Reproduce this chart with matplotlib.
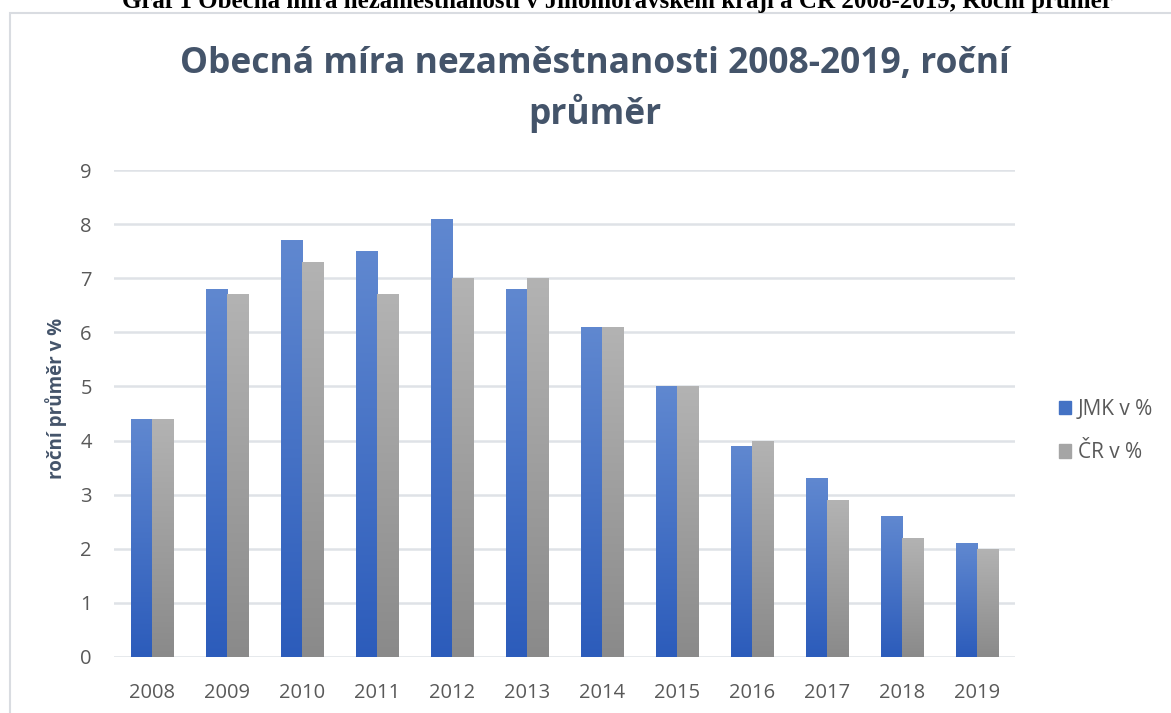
import numpy as np
import matplotlib
matplotlib.use("Agg")
import matplotlib.pyplot as plt
from matplotlib.patches import Rectangle
from matplotlib.colors import LinearSegmentedColormap

plt.rcParams['font.family'] = ['Open Sans', 'DejaVu Sans']

years = ['2008', '2009', '2010', '2011', '2012', '2013', '2014', '2015', '2016', '2017', '2018', '2019']
jmk = [4.4, 6.8, 7.7, 7.5, 8.1, 6.8, 6.1, 5.0, 3.9, 3.3, 2.6, 2.1]
cr = [4.4, 6.7, 7.3, 6.7, 7.0, 7.0, 6.1, 5.0, 4.0, 2.9, 2.2, 2.0]
series_names = ['JMK v %', 'ČR v %']

blue_cm = LinearSegmentedColormap.from_list('b', ['#2c5cbb', '#6088d0'])
gray_cm = LinearSegmentedColormap.from_list('g', ['#8a8a8a', '#b3b3b3'])

fig = plt.figure(figsize=(11.71, 7.13), dpi=100)

# chart frame
fig.patches.append(Rectangle((10 / 1171, -0.01), 1.05, 1 - 13 / 713 + 0.01, transform=fig.transFigure,
                             fill=False, edgecolor='#d9dce1', linewidth=1.5))

# cut-off caption at the top of the page
fig.text(617 / 1171, 1 - 8 / 713, 'Graf 1 Obecná míra nezaměstnanosti v Jihomoravském kraji a ČR 2008-2019, Roční průměr',
         ha='center', va='baseline', fontsize=18, fontweight='bold', family='Liberation Serif', color='black')

ax = fig.add_axes([114 / 1171, 1 - 657 / 713, 901 / 1171, 487 / 713])

x = np.arange(len(years))
w = 0.28
grad = np.linspace(0, 1, 256).reshape(-1, 1)


def gradient_bars(xs, vals, cmap):
    bars = ax.bar(xs, vals, w, color=cmap(0.5), zorder=2, linewidth=0)
    for b in bars:
        im = ax.imshow(grad, cmap=cmap, origin='lower', aspect='auto', zorder=3,
                       extent=[b.get_x(), b.get_x() + b.get_width(), 0, b.get_height()])
        im.set_clip_path(b)
    return bars


b1 = gradient_bars(x - w / 2, jmk, blue_cm)
b2 = gradient_bars(x + w / 2, cr, gray_cm)

ax.set_xlim(-0.5, len(years) - 0.5)
ax.set_ylim(0, 9)
ax.set_yticks(range(0, 10))
ax.set_xticks(x)
ax.set_xticklabels(years)
ax.tick_params(length=0, labelsize=14.5, colors='#595959', pad=16)
ax.tick_params(axis='x', pad=19)
ax.grid(axis='y', color='#dfe2e7', linewidth=1.8, zorder=0)
ax.set_axisbelow(True)
for s in ax.spines.values():
    s.set_visible(False)

ax.set_ylabel('roční průměr v %', fontsize=13.5, fontweight='bold', color='#44546a')
ax.yaxis.set_label_coords(-0.052, 0.53)

fig.text(595 / 1171, 1 - 73 / 713, 'Obecná míra nezaměstnanosti 2008-2019, roční', ha='center', va='baseline',
         fontsize=25.5, fontweight='bold', color='#44546a')
fig.text(595 / 1171, 1 - 124 / 713, 'průměr', ha='center', va='baseline',
         fontsize=25.5, fontweight='bold', color='#44546a')

h1 = Rectangle((0, 0), 1, 1, color='#4472c4')
h2 = Rectangle((0, 0), 1, 1, color='#a5a5a5')
fig.legend([h1, h2], series_names, loc='center left', bbox_to_anchor=(1040 / 1171, 1 - 431 / 713),
           frameon=False, fontsize=15, handlelength=0.6, handleheight=0.6, handletextpad=0.3,
           labelspacing=1.1, labelcolor='#595959')

fig.savefig('out.png', dpi=100)
